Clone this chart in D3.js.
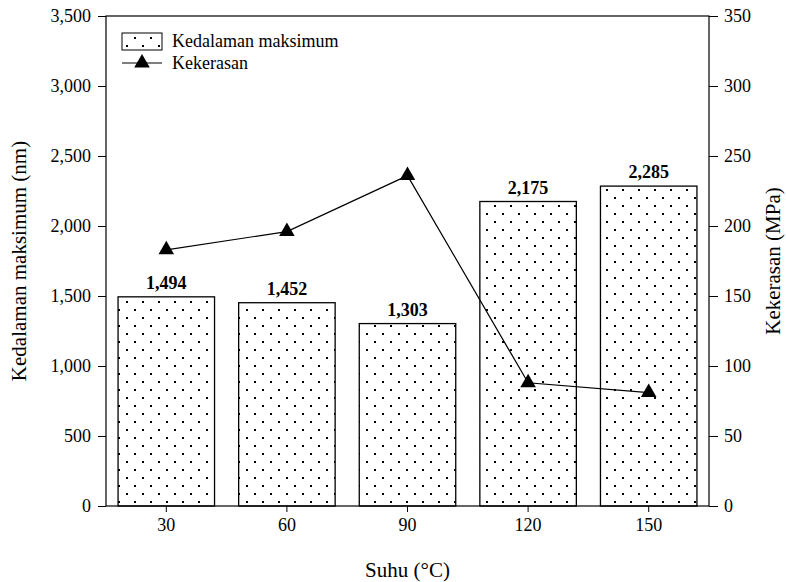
<!DOCTYPE html>
<html><head><meta charset="utf-8">
<script src="https://cdn.jsdelivr.net/npm/d3@7"></script>
<style>body{margin:0;background:#fff}svg{display:block}</style>
</head><body><svg id="c" width="786" height="582"></svg>
<script>
const categories = ["30","60","90","120","150"];
const depthValues = [1494,1452,1303,2175,2285];
const hardnessValues = [183,196,236,88,81];
const leftTicks = [0,500,1000,1500,2000,2500,3000,3500];
const rightTicks = [0,50,100,150,200,250,300,350];
const seriesNames = ["Kedalaman maksimum","Kekerasan"];

const FONT = "'Liberation Serif', 'Times New Roman', Times, serif";
const svg = d3.select("#c");
const L=106, R=709, T=16, B=506;
const x = d3.scaleBand().domain(categories).range([L,R]).paddingInner(0.2).paddingOuter(0.1);
const yL = d3.scaleLinear().domain([0,3500]).range([B,T]);
const yR = d3.scaleLinear().domain([0,350]).range([B,T]);
const fmt = d3.format(",");

const defs = svg.append("defs");
const pat = defs.append("pattern").attr("id","dots").attr("patternUnits","userSpaceOnUse")
  .attr("width",16).attr("height",16).attr("x",3).attr("y",2);
pat.append("rect").attr("width",16).attr("height",16).attr("fill","#fff");
pat.append("rect").attr("x",3).attr("y",3).attr("width",2).attr("height",2).attr("fill","#000");
pat.append("rect").attr("x",11).attr("y",11).attr("width",2).attr("height",2).attr("fill","#000");

// bars
svg.append("g").selectAll("rect").data(categories).join("rect")
  .attr("x",d=>x(d)).attr("width",x.bandwidth())
  .attr("y",(d,i)=>yL(depthValues[i])).attr("height",(d,i)=>B-yL(depthValues[i]))
  .attr("fill","url(#dots)").attr("stroke","#000").attr("stroke-width",1.3);

// bar labels
svg.append("g").selectAll("text").data(categories).join("text")
  .attr("x",d=>x(d)+x.bandwidth()/2).attr("y",(d,i)=>yL(depthValues[i])-8)
  .attr("text-anchor","middle").attr("font-size",18).attr("font-weight","bold")
  .text((d,i)=>fmt(depthValues[i]));

// axes
const axL = d3.axisLeft(yL).tickValues(leftTicks).tickFormat(fmt).tickSize(8).tickPadding(7);
const axR = d3.axisRight(yR).tickValues(rightTicks).tickSize(9).tickPadding(6);
const axB = d3.axisBottom(x).tickSize(6).tickPadding(6);
function style(g){g.select(".domain").remove();g.selectAll("line").attr("stroke","#000");g.selectAll("text").attr("font-size",18).attr("fill","#000");}
svg.append("g").attr("transform",`translate(${L},0)`).call(axL).call(style);
svg.append("g").attr("transform",`translate(${R},0)`).call(axR).call(style);
svg.append("g").attr("transform",`translate(0,${B})`).call(axB).call(style);
svg.append("rect").attr("x",L).attr("y",T).attr("width",R-L).attr("height",B-T)
  .attr("fill","none").attr("stroke","#000").attr("stroke-width",1.2);

// line
const cx = d=>x(d)+x.bandwidth()/2;
const line = d3.line().x(d=>cx(d)).y((d,i)=>yR(hardnessValues[i]));
svg.append("path").datum(categories).attr("d",line).attr("fill","none").attr("stroke","#000").attr("stroke-width",1.2);
const tri = d3.symbol().type(d3.symbolTriangle).size(105);
svg.append("g").selectAll("path").data(categories).join("path")
  .attr("transform",(d,i)=>`translate(${cx(d)},${yR(hardnessValues[i])})`)
  .attr("d",tri).attr("fill","#000");

// titles
svg.append("text").attr("transform",`translate(26,${(T+B)/2}) rotate(-90)`).attr("text-anchor","middle")
  .attr("font-size",21).text("Kedalaman maksimum (nm)");
svg.append("text").attr("transform",`translate(780,${(T+B)/2}) rotate(-90)`).attr("text-anchor","middle")
  .attr("font-size",21).text("Kekerasan (MPa)");
svg.append("text").attr("x",(L+R)/2).attr("y",577).attr("text-anchor","middle")
  .attr("font-size",21).text("Suhu (°C)");

// legend
const lg = svg.append("g");
lg.append("rect").attr("x",122).attr("y",33).attr("width",40).attr("height",17)
  .attr("fill","url(#dots)").attr("stroke","#000").attr("stroke-width",1);
lg.append("text").attr("x",172).attr("y",47).attr("font-size",18).text(seriesNames[0]);
lg.append("line").attr("x1",122).attr("x2",162).attr("y1",63).attr("y2",63).attr("stroke","#000").attr("stroke-width",1.2);
lg.append("path").attr("transform","translate(142,63)").attr("d",tri).attr("fill","#000");
lg.append("text").attr("x",172).attr("y",69).attr("font-size",18).text(seriesNames[1]);

svg.selectAll("text").style("font-family", FONT).style("fill","#000");
</script></body></html>
